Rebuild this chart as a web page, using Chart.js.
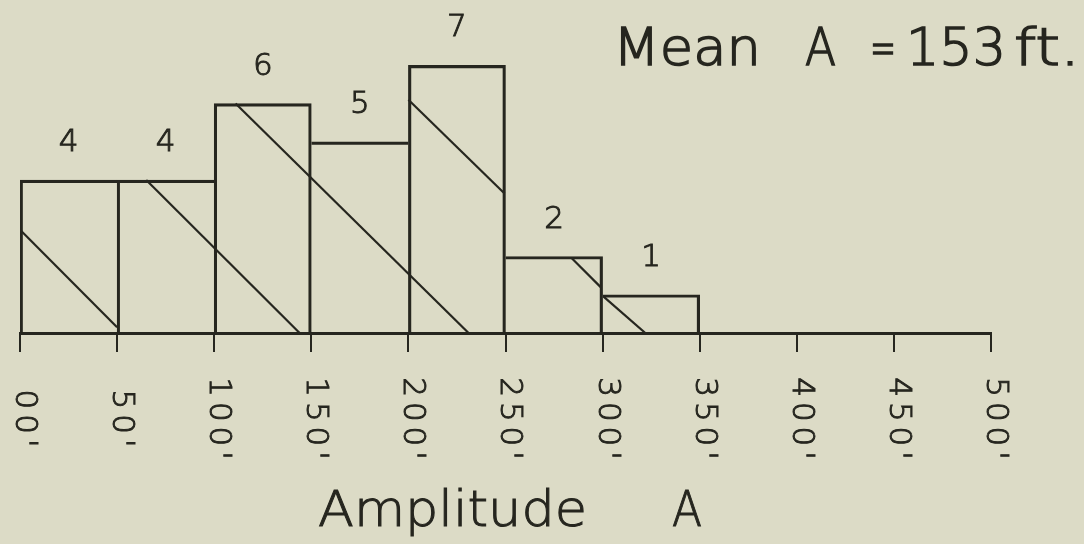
<!DOCTYPE html>
<html>
<head>
<meta charset="utf-8">
<script src="https://cdn.jsdelivr.net/npm/chart.js@4.4.1/dist/chart.umd.min.js"></script>
<style>
  html, body { margin: 0; padding: 0; background: #dcdbc6; }
  #wrap { width: 1084px; height: 544px; position: relative; }
</style>
</head>
<body>
<div id="wrap"><canvas id="c"></canvas></div>
<script>
'use strict';

// histogram bins (ft) and counts
var binStarts = [0, 50, 100, 150, 200, 250, 300];
var binWidth = 50;
var counts = [4, 4, 6, 5, 7, 2, 1];

// x axis ticks
var tickValues = [0, 50, 100, 150, 200, 250, 300, 350, 400, 450, 500];
var tickLabels = ["00'", "50'", "100'", "150'", "200'", "250'", "300'", "350'", "400'", "450'", "500'"];

// hand drawn hatch strokes, [x1, y1, x2, y2] in ft / count
var hatchLines = [
    [0, 2.7, 50, 0.15],
    [65, 4, 144, 0],
    [111, 6, 231, 0],
    [200, 6.1, 249.5, 3.65],
    [284, 1.96, 299, 1.2],
    [300.5, 0.95, 322, 0]
];

var meanText = 'Mean A =153 ft.';
var axisTitle = 'Amplitude A';

var INK = '#26261f';
var HAND = '300 %spx "DejaVu Sans ExtraLight", "DejaVu Sans", sans-serif';

function handFont(size) {
    return HAND.replace('%s', size);
}

// fill + thin stroke so the pen line looks a bit heavier
function penText(ctx, text, x, y) {
    ctx.fillText(text, x, y);
    ctx.strokeText(text, x, y);
}

// draw text squeezed/stretched to a given width
function fitText(ctx, text, x0, x1, y, size) {
    ctx.save();
    ctx.font = handFont(size);
    var w = ctx.measureText(text).width;
    ctx.translate(x0, y);
    ctx.scale((x1 - x0) / w, 1);
    ctx.textAlign = 'left';
    ctx.textBaseline = 'alphabetic';
    penText(ctx, text, 0, 0);
    ctx.restore();
}

var barData = binStarts.map(function (b, i) {
    return { x: b + binWidth / 2, y: counts[i] };
});

function sideWidths(ctx) {
    var i = ctx.dataIndex;
    var v = counts[i];
    var prev = i > 0 ? counts[i - 1] : -1;
    var next = i < counts.length - 1 ? counts[i + 1] : -1;
    return {
        top: 2.5,
        left: prev <= v ? 2.5 : 0,
        right: next < v ? 2.5 : 0,
        bottom: 0
    };
}

var datasets = [{
    type: 'bar',
    data: barData,
    backgroundColor: 'rgba(0,0,0,0)',
    borderColor: INK,
    borderWidth: sideWidths,
    borderSkipped: false,
    barPercentage: 1,
    categoryPercentage: 1,
    grouped: false
}];

hatchLines.forEach(function (h) {
    datasets.push({
        type: 'line',
        data: [{ x: h[0], y: h[1] }, { x: h[2], y: h[3] }],
        borderColor: INK,
        borderWidth: 2.2,
        pointRadius: 0,
        fill: false
    });
});

var handText = {
    id: 'handText',
    afterDraw: function (chart) {
        var ctx = chart.ctx;
        var xs = chart.scales.x;
        ctx.save();
        ctx.fillStyle = INK;
        ctx.strokeStyle = INK;
        ctx.lineWidth = 1;

        // counts over the bars
        var meta = chart.getDatasetMeta(0);
        ctx.font = handFont(31);
        ctx.textAlign = 'center';
        ctx.textBaseline = 'middle';
        meta.data.forEach(function (bar, i) {
            penText(ctx, String(counts[i]), bar.x, bar.y - 37);
        });

        // rotated tick labels, reading downwards
        ctx.font = handFont(31);
        ctx.letterSpacing = '5px';
        tickValues.forEach(function (v, i) {
            var px = xs.getPixelForValue(v);
            ctx.save();
            ctx.translate(px + 4, 421);
            ctx.rotate(Math.PI / 2);
            ctx.textAlign = 'center';
            ctx.textBaseline = 'middle';
            penText(ctx, tickLabels[i], 0, 0);
            ctx.restore();
        });
        ctx.letterSpacing = '0px';

        // axis title
        var t = axisTitle.split(' ');
        fitText(ctx, t[0], 318, 587, 526, 50);
        fitText(ctx, t[1], 672, 702, 526, 50);

        // mean annotation
        ctx.lineWidth = 1.5;
        var m = meanText.split(' ');
        fitText(ctx, m[0], 613, 761, 65, 52);
        fitText(ctx, m[1], 805, 836, 65, 52);
        fitText(ctx, '=', 870, 896, 65, 52);
        fitText(ctx, m[2].replace('=', ''), 906, 1006, 65, 52);
        fitText(ctx, m[3], 1014, 1080, 65, 52);

        ctx.restore();
    }
};

new Chart(document.getElementById('c'), {
    data: { datasets: datasets },
    options: {
        responsive: true,
        maintainAspectRatio: false,
        animation: false,
        layout: { padding: { left: 20, right: 93, top: 8, bottom: 0 } },
        plugins: {
            legend: { display: false },
            tooltip: { enabled: false },
            title: { display: false }
        },
        scales: {
            x: {
                type: 'linear',
                min: 0,
                max: 500,
                offset: false,
                afterFit: function (s) { s.height = 211; },
                afterBuildTicks: function (s) {
                    s.ticks = tickValues.map(function (v) { return { value: v }; });
                },
                ticks: { display: false },
                grid: {
                    offset: false,
                    drawOnChartArea: false,
                    drawTicks: true,
                    tickLength: 19,
                    color: INK,
                    lineWidth: 2
                },
                border: { display: true, color: INK, width: 3 }
            },
            y: {
                display: false,
                min: 0,
                max: 8.5
            }
        }
    },
    plugins: [handText]
});
</script>
</body>
</html>
